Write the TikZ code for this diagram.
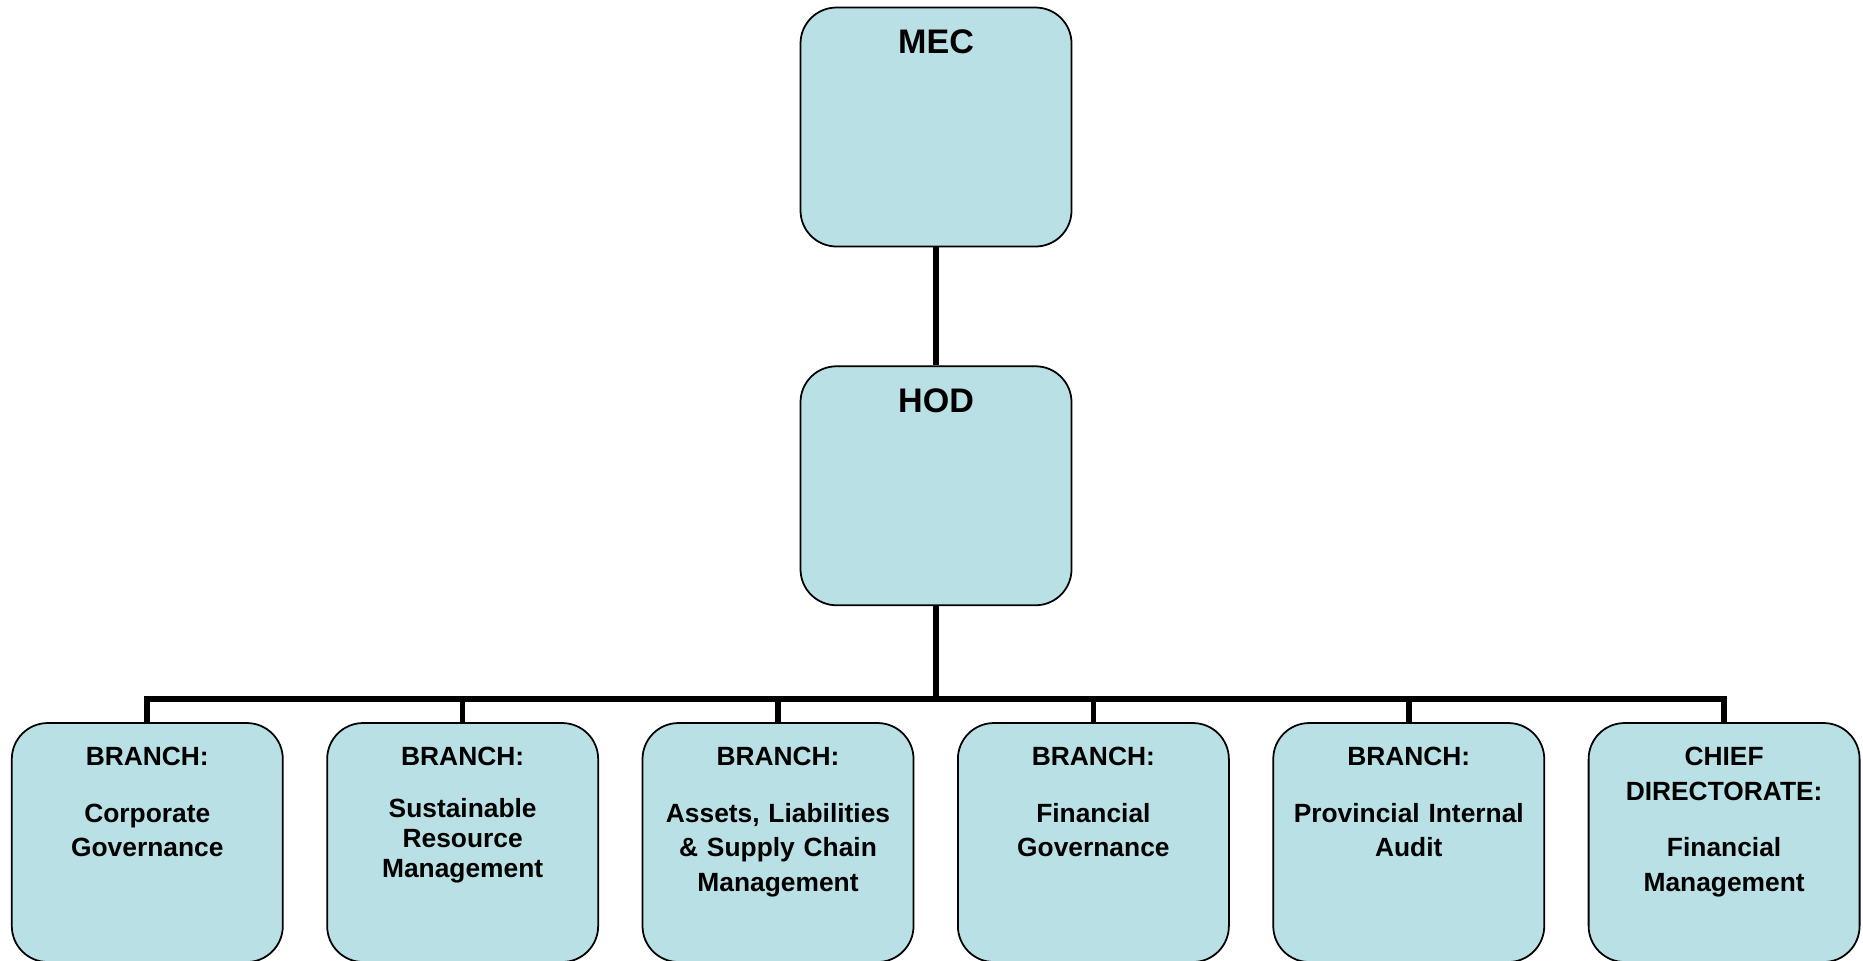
\documentclass[tikz,border=0pt]{standalone}
\usepackage{fontspec}
\setmainfont{Liberation Sans}
\usepackage{xcolor}
\usetikzlibrary{positioning}
\definecolor{boxblue}{HTML}{B9E0E4}
\tikzstyle{topbox} = [rectangle, draw, line width=0.5pt, fill=boxblue, rounded corners=0.36cm, minimum width=2.71cm, text width=2.5cm, align=center, inner sep=0pt, text height=13.2pt, text depth=54.8pt, font=\fontsize{9.7pt}{12pt}\selectfont\bfseries]
\tikzstyle{unitbox} = [rectangle, draw, line width=0.5pt, fill=boxblue, rounded corners=0.36cm, minimum width=2.71cm, text width=2.5cm, align=center, inner sep=0pt, text height=12.1pt, text depth=55.9pt, font=\fontsize{7.5pt}{9.8pt}\selectfont\bfseries]
\tikzstyle{link} = [line width=1.6pt]

\begin{document}
\begin{tikzpicture}[node distance=1.18cm and 0.426cm]
\useasboundingbox (0,0) rectangle (18.63,-9.60);

% Top of the chart
\node[topbox] (mec) at (9.36,-1.27) {MEC};
\node[topbox, below=of mec] (hod) {HOD};

% Branches - left to right
\node[unitbox] (b1) at (1.473,-8.425) {BRANCH:\\[6.4pt]Corporate\\Governance};
\node[unitbox, right=of b1] (b2) {BRANCH:\\[5pt]Sustainable\\[-1.3pt]Resource\\[-1.3pt]Management};
\node[unitbox, right=of b2] (b3) {BRANCH:\\[6.4pt]Assets, Liabilities\\\& Supply Chain\\Management};
\node[unitbox, right=of b3] (b4) {BRANCH:\\[6.4pt]Financial\\Governance};
\node[unitbox, right=of b4] (b5) {BRANCH:\\[6.4pt]Provincial Internal\\Audit};
\node[unitbox, right=of b5] (b6) {CHIEF\\DIRECTORATE:\\[6.4pt]Financial\\Management};

\coordinate (bus) at (9.36,-6.99);

% Lines
\draw[link] (mec) -- (hod);
\draw[link] (hod) -- (bus);
\draw[link] (b1.north) -- (b1 |- bus) -- (b6 |- bus) -- (b6.north);
\draw[link] (b2.north) -- (b2 |- bus);
\draw[link] (b3.north) -- (b3 |- bus);
\draw[link] (b4.north) -- (b4 |- bus);
\draw[link] (b5.north) -- (b5 |- bus);

\end{tikzpicture}
\end{document}
